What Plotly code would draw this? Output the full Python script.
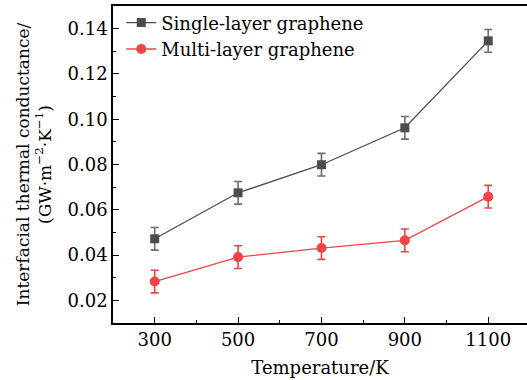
import plotly.graph_objects as go

temperature = [300, 500, 700, 900, 1100]
single_layer = [0.0472, 0.0675, 0.0799, 0.0962, 0.1346]
single_err = [0.005, 0.005, 0.005, 0.005, 0.005]
multi_layer = [0.0283, 0.0391, 0.0431, 0.0465, 0.0658]
multi_err = [0.005, 0.005, 0.005, 0.005, 0.005]

FONT = "DejaVu Serif"

fig = go.Figure()
fig.add_trace(go.Scatter(
    x=temperature, y=single_layer, mode="lines+markers", name="Single-layer graphene",
    line=dict(color="#4d4d4d", width=1.3),
    marker=dict(symbol="square", size=9, color="#4d4d4d"),
    error_y=dict(type="data", array=single_err, visible=True, color="#6e6e6e", thickness=1.6, width=4),
))
fig.add_trace(go.Scatter(
    x=temperature, y=multi_layer, mode="lines+markers", name="Multi-layer graphene",
    line=dict(color="#f04448", width=1.3),
    marker=dict(symbol="circle", size=10, color="#f04448"),
    error_y=dict(type="data", array=multi_err, visible=True, color="#f04448", thickness=1.6, width=4),
))

fig.update_layout(
    width=527, height=380,
    margin=dict(l=113, r=0, t=6, b=57),
    paper_bgcolor="white", plot_bgcolor="white",
    font=dict(family=FONT, size=18, color="black"),
    showlegend=True,
    legend=dict(x=0.02, y=1.005, xanchor="left", yanchor="top", bgcolor="rgba(0,0,0,0)",
                font=dict(family=FONT, size=18), tracegroupgap=0, itemwidth=30),
    xaxis=dict(
        range=[200, 1193], tick0=300, dtick=200, ticks="inside", ticklen=6, tickwidth=1.2,
        tickcolor="black", showline=True, linecolor="black", linewidth=1.5, mirror=True,
        showgrid=False, zeroline=False,
        minor=dict(dtick=100, tick0=300, ticks="inside", ticklen=3, tickwidth=1, tickcolor="black"),
        title=dict(text="Temperature/K", font=dict(family=FONT, size=18), standoff=12),
        tickfont=dict(family=FONT, size=18),
    ),
    yaxis=dict(
        range=[0.01, 0.15], tick0=0.02, dtick=0.02, tickformat=".2f", ticks="inside",
        ticklen=6, tickwidth=1.2, tickcolor="black", showline=True, linecolor="black",
        linewidth=1.5, mirror=False, showgrid=False, zeroline=False,
        minor=dict(dtick=0.01, ticks="inside", ticklen=3, tickwidth=1, tickcolor="black"),
        title=dict(text="Interfacial thermal conductance/<br>(GW·m<sup>−2</sup>·K<sup>−1</sup>)",
                   font=dict(family=FONT, size=17), standoff=12),
        tickfont=dict(family=FONT, size=18),
        ticklabelstandoff=0,
    ),
)

fig.write_html("out.html")
